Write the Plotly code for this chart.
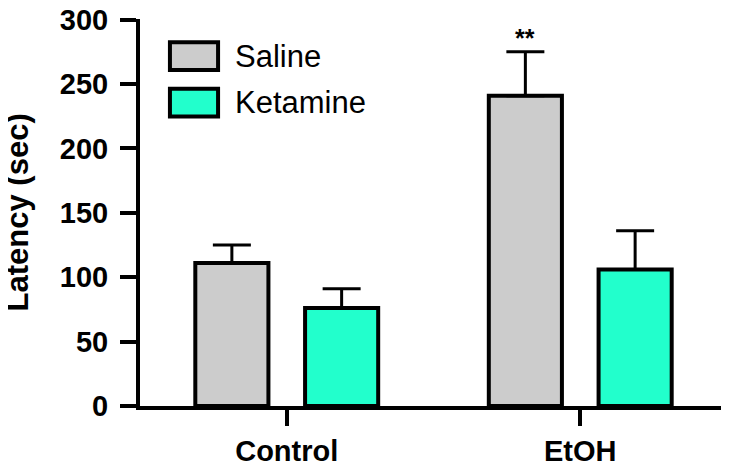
import plotly.graph_objects as go

groups = ["Control", "EtOH"]
saline = [111, 241]
saline_sem = [14, 34]
ketamine = [76, 106]
ketamine_sem = [15, 30]
y_ticks = [0, 50, 100, 150, 200, 250, 300]

GREY = "#cccccc"
TEAL = "#22ffcc"
FONT = "Liberation Sans"

fig = go.Figure()
fig.add_trace(go.Bar(
    x=groups, y=saline, name="Saline",
    marker=dict(color=GREY, line=dict(color="black", width=4)),
    error_y=dict(type="data", symmetric=False, array=saline_sem,
                 arrayminus=[0] * len(saline), color="black", thickness=3, width=19),
))
fig.add_trace(go.Bar(
    x=groups, y=ketamine, name="Ketamine",
    marker=dict(color=TEAL, line=dict(color="black", width=4)),
    error_y=dict(type="data", symmetric=False, array=ketamine_sem,
                 arrayminus=[0] * len(ketamine), color="black", thickness=3, width=19),
))

# significance mark over EtOH saline
fig.add_annotation(x="EtOH", y=saline[1] + saline_sem[1], xshift=-55, yshift=14,
                   text="<b>**</b>", showarrow=False,
                   font=dict(family=FONT, size=25, color="black"))

# hand-drawn legend (large swatches like the original)
for i, (name, col) in enumerate([("Saline", GREY), ("Ketamine", TEAL)]):
    y0 = 0.94 - i * 0.12
    fig.add_shape(type="rect", xref="paper", yref="paper",
                  x0=0.051, x1=0.133, y0=y0 - 0.072, y1=y0,
                  fillcolor=col, line=dict(color="black", width=4))
    fig.add_annotation(xref="paper", yref="paper", x=0.158, y=y0 - 0.036,
                       xanchor="left", yanchor="middle", text=name, showarrow=False,
                       font=dict(family=FONT, size=31, color="black"))

# y axis title as a rotated annotation
fig.add_annotation(xref="paper", yref="paper", x=-0.208, y=0.50,
                   xanchor="center", yanchor="middle",
                   text="<b>Latency (sec)</b>", textangle=-90, showarrow=False,
                   font=dict(family=FONT, size=31, color="black"))

# page body adds an 8px offset, so size/margins are trimmed to compensate
fig.update_layout(
    width=721, height=457,
    margin=dict(l=132, r=2, t=11, b=59),
    paper_bgcolor="white", plot_bgcolor="white",
    barmode="group", bargap=0.252, bargroupgap=0.334,
    showlegend=False,
    font=dict(family=FONT, color="black"),
)
fig.update_xaxes(
    automargin=False,
    showline=True, linecolor="black", linewidth=4,
    ticks="outside", ticklen=16, tickwidth=4, tickcolor="black",
    tickfont=dict(family=FONT, size=29, color="black", weight="bold"),
    ticklabelstandoff=0,
    range=[-0.5, 1.5], showgrid=False, zeroline=False,
)
fig.update_yaxes(
    automargin=False,
    range=[0, 300.5], tickvals=y_ticks,
    showline=True, linecolor="black", linewidth=4,
    ticks="outside", ticklen=16, tickwidth=4, tickcolor="black",
    tickfont=dict(family=FONT, size=29, color="black", weight="bold"),
    ticklabelstandoff=6, ticklabeloverflow="allow",
    showgrid=False, zeroline=False,
)

fig.write_html("out.html")
